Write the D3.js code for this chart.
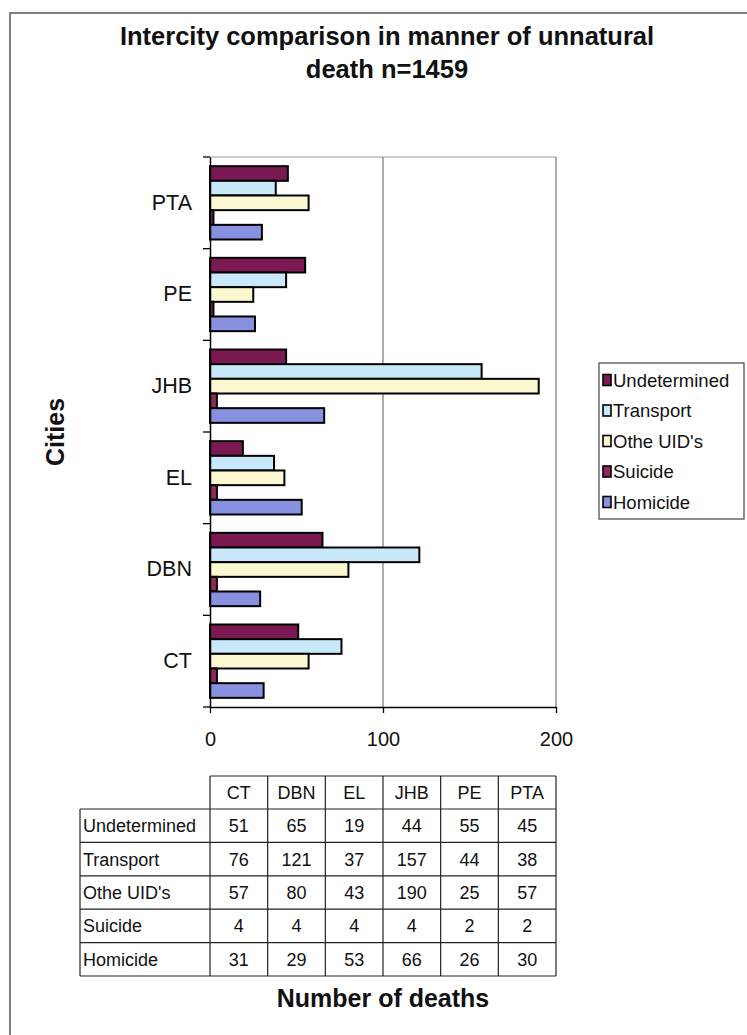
<!DOCTYPE html>
<html>
<head>
<meta charset="utf-8">
<script src="https://cdn.jsdelivr.net/npm/d3@7"></script>
<style>
  html, body { margin: 0; padding: 0; background: #fff; }
  svg { display: block; font-family: "Liberation Sans", Arial, sans-serif; }
</style>
</head>
<body>
<svg id="chart" width="747" height="1035"></svg>
<script>
// Cities, in table order
const cities = ["CT", "DBN", "EL", "JHB", "PE", "PTA"];
// Manner of death series, legend order (top bar first within each city)
const seriesNames = ["Undetermined", "Transport", "Othe UID's", "Suicide", "Homicide"];
const undetermined = [51, 65, 19, 44, 55, 45];
const transport    = [76, 121, 37, 157, 44, 38];
const otherUIDs    = [57, 80, 43, 190, 25, 57];
const suicide      = [4, 4, 4, 4, 2, 2];
const homicide     = [31, 29, 53, 66, 26, 30];
const xTicks = [0, 100, 200];
const seriesColors = ["#7b1a52", "#c9e9fa", "#fcf8d2", "#8e2b5c", "#8890e0"];

const seriesValues = [undetermined, transport, otherUIDs, suicide, homicide];
const rows = seriesNames.map((name, i) => ({ name, values: seriesValues[i], color: seriesColors[i] }));

const svg = d3.select("#chart");
const font = '"Liberation Sans", Arial, sans-serif';

// Outer chart frame (top and left edges)
svg.append("path")
  .attr("d", "M10,1035 V13 H747")
  .attr("fill", "none").attr("stroke", "#555").attr("stroke-width", 1.5);

// Title
const title = svg.append("text")
  .attr("text-anchor", "middle")
  .attr("font-weight", "bold").attr("font-size", 25.5).attr("fill", "#111");
title.append("tspan").attr("x", 387).attr("y", 45).text("Intercity comparison in manner of unnatural");
title.append("tspan").attr("x", 387).attr("y", 78).text("death n=1459");

// Scales
const plot = { left: 210, right: 556, top: 157, bottom: 707 };
const x = d3.scaleLinear().domain([0, 200]).range([plot.left, plot.right]);
const cityOrder = cities.slice().reverse(); // PTA at top
const yCat = d3.scaleBand().domain(cityOrder).range([plot.top, plot.bottom]);
const yGroup = d3.scaleBand().domain(cityOrder).range([plot.top, plot.bottom])
  .paddingInner(0.2).paddingOuter(0.1);
const ySeries = d3.scaleBand().domain(seriesNames).range([0, yGroup.bandwidth()]);

// Plot frame and gridlines
svg.append("line")
  .attr("x1", plot.left).attr("x2", plot.right).attr("y1", plot.top).attr("y2", plot.top)
  .attr("stroke", "#9a9a9a").attr("stroke-width", 1.2);
svg.append("g").selectAll("line").data(xTicks.filter(d => d > 0)).join("line")
  .attr("x1", d => x(d)).attr("x2", d => x(d))
  .attr("y1", plot.top).attr("y2", plot.bottom)
  .attr("stroke", "#808080").attr("stroke-width", 1.3);

// Bars
const groups = svg.append("g").selectAll("g").data(cities).join("g")
  .attr("transform", c => `translate(0,${yGroup(c)})`);
groups.selectAll("rect")
  .data((c, ci) => rows.map(r => ({ name: r.name, value: r.values[ci], color: r.color })))
  .join("rect")
  .attr("x", x(0))
  .attr("y", d => ySeries(d.name))
  .attr("width", d => x(d.value) - x(0))
  .attr("height", ySeries.bandwidth())
  .attr("fill", d => d.color)
  .attr("stroke", "#000").attr("stroke-width", 2);

// Y axis (city labels) with boundary ticks
const yAxis = svg.append("g").attr("transform", `translate(${plot.left},0)`)
  .call(d3.axisLeft(yCat).tickSize(0).tickPadding(18));
yAxis.select(".domain").attr("stroke", "#000").attr("stroke-width", 1.5);
yAxis.selectAll("text").attr("font-family", font).attr("font-size", 21.5).attr("fill", "#111");
const boundaries = cityOrder.map(c => yCat(c)).concat([yCat.range()[1]]);
yAxis.selectAll("line.bound").data(boundaries).join("line").attr("class", "bound")
  .attr("x1", -7).attr("x2", 0).attr("y1", d => d).attr("y2", d => d)
  .attr("stroke", "#000").attr("stroke-width", 1.3);

// X axis
const xAxis = svg.append("g").attr("transform", `translate(0,${plot.bottom})`)
  .call(d3.axisBottom(x).tickValues(xTicks).tickSize(6).tickPadding(19).tickSizeOuter(0));
xAxis.select(".domain").attr("stroke", "#000").attr("stroke-width", 1.5);
xAxis.selectAll(".tick line").attr("stroke", "#000").attr("stroke-width", 1.3);
xAxis.selectAll("text").attr("font-family", font).attr("font-size", 20).attr("fill", "#111");

// Axis titles
svg.append("text")
  .attr("transform", `translate(64,${(plot.top + plot.bottom) / 2}) rotate(-90)`)
  .attr("text-anchor", "middle").attr("font-weight", "bold").attr("font-size", 25).attr("fill", "#111")
  .text("Cities");
svg.append("text")
  .attr("x", (plot.left + plot.right) / 2).attr("y", 1007)
  .attr("text-anchor", "middle").attr("font-weight", "bold").attr("font-size", 25).attr("fill", "#111")
  .text("Number of deaths");

// Legend
const legend = svg.append("g");
legend.append("rect").attr("x", 599).attr("y", 363).attr("width", 145).attr("height", 156)
  .attr("fill", "#fff").attr("stroke", "#444").attr("stroke-width", 1.2);
const legendY = d3.scalePoint().domain(seriesNames).range([380, 502]);
const items = legend.selectAll("g.item").data(rows).join("g").attr("class", "item")
  .attr("transform", d => `translate(603,${legendY(d.name)})`);
items.append("rect").attr("x", 0).attr("y", -5.5).attr("width", 8).attr("height", 11)
  .attr("fill", d => d.color).attr("stroke", "#000").attr("stroke-width", 1.6);
items.append("text").attr("x", 10).attr("y", 6.5)
  .attr("font-size", 18.5).attr("fill", "#111").text(d => d.name);

// Data table
const table = { top: 776, headerH: 33, rowH: 33.4, labelLeft: 80 };
const colX = d3.scaleBand().domain(cities).range([plot.left, plot.right]);
const tg = svg.append("g").attr("font-size", 18).attr("fill", "#111");
const rowTop = i => table.top + table.headerH + i * table.rowH;
const tableBottom = rowTop(rows.length);
// horizontal lines
tg.append("line").attr("x1", plot.left).attr("x2", plot.right)
  .attr("y1", table.top).attr("y2", table.top).attr("stroke", "#222").attr("stroke-width", 1.2);
tg.selectAll("line.h").data(d3.range(rows.length + 1)).join("line").attr("class", "h")
  .attr("x1", table.labelLeft).attr("x2", plot.right)
  .attr("y1", i => rowTop(i)).attr("y2", i => rowTop(i))
  .attr("stroke", "#222").attr("stroke-width", 1.2);
// vertical lines
tg.selectAll("line.v").data(cities.map(c => colX(c)).concat([plot.right])).join("line").attr("class", "v")
  .attr("x1", d => d).attr("x2", d => d).attr("y1", table.top).attr("y2", tableBottom)
  .attr("stroke", "#222").attr("stroke-width", 1.2);
tg.append("line").attr("x1", table.labelLeft).attr("x2", table.labelLeft)
  .attr("y1", rowTop(0)).attr("y2", tableBottom).attr("stroke", "#222").attr("stroke-width", 1.2);
// header
tg.selectAll("text.hd").data(cities).join("text").attr("class", "hd")
  .attr("x", c => colX(c) + colX.bandwidth() / 2).attr("y", table.top + table.headerH / 2 + 6.5)
  .attr("text-anchor", "middle").text(c => c);
// rows
rows.forEach((r, i) => {
  tg.append("text").attr("x", table.labelLeft + 3).attr("y", rowTop(i) + table.rowH / 2 + 6.5).text(r.name);
  tg.selectAll(null).data(r.values).join("text")
    .attr("x", (v, j) => colX(cities[j]) + colX.bandwidth() / 2)
    .attr("y", rowTop(i) + table.rowH / 2 + 6.5)
    .attr("text-anchor", "middle").text(v => v);
});
</script>
</body>
</html>
